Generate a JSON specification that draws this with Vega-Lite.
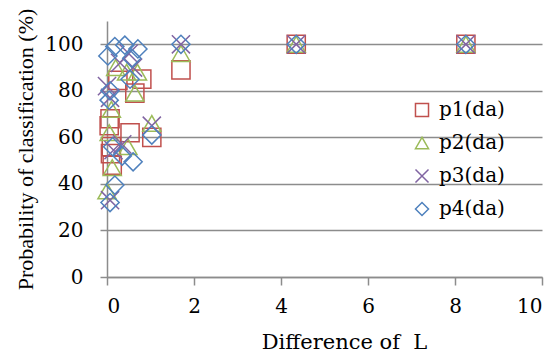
{
  "$schema": "https://vega.github.io/schema/vega-lite/v6.json",
  "width": 435,
  "height": 256,
  "autosize": {"type": "none"},
  "padding": {"left": 107, "top": 21, "right": 15, "bottom": 78},
  "background": "white",
  "config": {
    "view": {"stroke": null},
    "axis": {
      "domainColor": "#8c8c8c",
      "domainWidth": 1.5,
      "tickColor": "#8c8c8c",
      "tickWidth": 1.5,
      "gridColor": "#8c8c8c",
      "gridWidth": 1.5,
      "labelFont": "DejaVu Serif",
      "labelFontSize": 20,
      "labelColor": "#000000",
      "titleFontWeight": "normal",
      "titleColor": "#000000"
    },
    "legend": {
      "labelFont": "DejaVu Serif",
      "labelFontSize": 20,
      "labelColor": "#000000"
    }
  },
  "data": {
    "values": [
      {"s": "p1(da)", "L": 0.05, "p": 65},
      {"s": "p1(da)", "L": 0.07, "p": 68},
      {"s": "p1(da)", "L": 0.1, "p": 56},
      {"s": "p1(da)", "L": 0.08, "p": 53},
      {"s": "p1(da)", "L": 0.12, "p": 48},
      {"s": "p1(da)", "L": 0.25, "p": 84.5},
      {"s": "p1(da)", "L": 0.53, "p": 62},
      {"s": "p1(da)", "L": 0.64, "p": 79},
      {"s": "p1(da)", "L": 0.8, "p": 85},
      {"s": "p1(da)", "L": 1.03, "p": 60},
      {"s": "p1(da)", "L": 1.7, "p": 89},
      {"s": "p1(da)", "L": 4.35, "p": 100},
      {"s": "p1(da)", "L": 8.25, "p": 100},
      {"s": "p2(da)", "L": 0.0, "p": 37},
      {"s": "p2(da)", "L": 0.12, "p": 47},
      {"s": "p2(da)", "L": 0.05, "p": 62},
      {"s": "p2(da)", "L": 0.1, "p": 72},
      {"s": "p2(da)", "L": 0.48, "p": 56},
      {"s": "p2(da)", "L": 0.2, "p": 90},
      {"s": "p2(da)", "L": 0.45, "p": 88},
      {"s": "p2(da)", "L": 0.64, "p": 79},
      {"s": "p2(da)", "L": 0.7, "p": 88},
      {"s": "p2(da)", "L": 1.03, "p": 66},
      {"s": "p2(da)", "L": 1.7, "p": 96},
      {"s": "p2(da)", "L": 4.35, "p": 100},
      {"s": "p2(da)", "L": 8.25, "p": 100},
      {"s": "p3(da)", "L": 0.07, "p": 33},
      {"s": "p3(da)", "L": 0.15, "p": 54.5},
      {"s": "p3(da)", "L": 0.35, "p": 57},
      {"s": "p3(da)", "L": 0.07, "p": 77},
      {"s": "p3(da)", "L": 0.0, "p": 82},
      {"s": "p3(da)", "L": 0.3, "p": 92},
      {"s": "p3(da)", "L": 0.5, "p": 96},
      {"s": "p3(da)", "L": 0.6, "p": 90},
      {"s": "p3(da)", "L": 1.03, "p": 65},
      {"s": "p3(da)", "L": 1.7, "p": 100},
      {"s": "p3(da)", "L": 4.35, "p": 100},
      {"s": "p3(da)", "L": 8.25, "p": 100},
      {"s": "p4(da)", "L": 0.07, "p": 32},
      {"s": "p4(da)", "L": 0.18, "p": 39.5},
      {"s": "p4(da)", "L": 0.6, "p": 49.5},
      {"s": "p4(da)", "L": 0.13, "p": 56},
      {"s": "p4(da)", "L": 0.35, "p": 52},
      {"s": "p4(da)", "L": 1.03, "p": 61},
      {"s": "p4(da)", "L": 0.05, "p": 76},
      {"s": "p4(da)", "L": 0.07, "p": 80},
      {"s": "p4(da)", "L": 0.53, "p": 85},
      {"s": "p4(da)", "L": 0.02, "p": 95},
      {"s": "p4(da)", "L": 0.18, "p": 99},
      {"s": "p4(da)", "L": 0.41, "p": 99.6},
      {"s": "p4(da)", "L": 0.71, "p": 98},
      {"s": "p4(da)", "L": 0.57, "p": 94},
      {"s": "p4(da)", "L": 1.7, "p": 100},
      {"s": "p4(da)", "L": 4.35, "p": 100},
      {"s": "p4(da)", "L": 8.25, "p": 100}
    ]
  },
  "mark": {"type": "point", "filled": false, "strokeWidth": 1.5, "size": 330, "opacity": 1},
  "encoding": {
    "x": {
      "field": "L",
      "type": "quantitative",
      "scale": {"domain": [0, 10], "nice": false, "zero": false},
      "axis": {
        "values": [0, 2, 4, 6, 8, 10],
        "grid": false,
        "tickSize": 8,
        "labelPadding": 11,
        "title": "Difference of \u00a0L",
        "titleFont": "DejaVu Serif",
        "titleFontSize": 21,
        "titleX": 237,
        "titleY": 71,
        "titleAlign": "center",
        "titleBaseline": "alphabetic",
        "titleAnchor": null
      }
    },
    "y": {
      "field": "p",
      "type": "quantitative",
      "scale": {"domain": [0, 110], "nice": false},
      "axis": {
        "values": [0, 20, 40, 60, 80, 100],
        "grid": true,
        "tickSize": 7,
        "labelPadding": 17,
        "title": "Probability of classification (%)",
        "titleFont": "Liberation Serif",
        "titleFontSize": 22,
        "titleAngle": -90,
        "titleX": -75,
        "titleY": 128,
        "titleAlign": "center",
        "titleBaseline": "alphabetic"
      }
    },
    "color": {
      "field": "s",
      "type": "nominal",
      "scale": {
        "domain": ["p1(da)", "p2(da)", "p3(da)", "p4(da)"],
        "range": ["#C0504D", "#9BBB59", "#8064A2", "#4F81BD"]
      },
      "legend": {
        "title": null,
        "orient": "none",
        "legendX": 305,
        "legendY": 79,
        "padding": 0,
        "rowPadding": 13,
        "labelOffset": 7,
        "symbolSize": 170,
        "symbolStrokeWidth": 1.5,
        "symbolFillColor": "transparent"
      }
    },
    "shape": {
      "field": "s",
      "type": "nominal",
      "scale": {
        "domain": ["p1(da)", "p2(da)", "p3(da)", "p4(da)"],
        "range": ["square", "triangle-up", "M-1,-1L1,1M-1,1L1,-1", "diamond"]
      },
      "legend": null
    },
    "order": {"field": "s", "type": "nominal"}
  }
}
